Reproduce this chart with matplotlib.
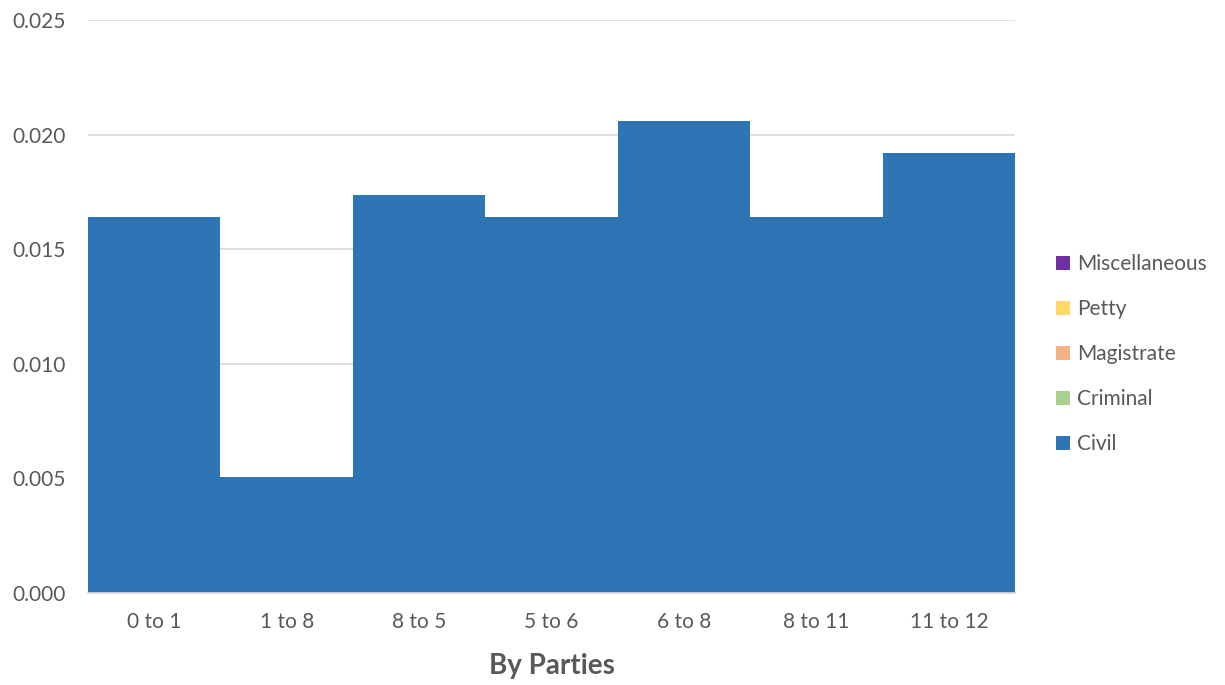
import numpy as np
import matplotlib.pyplot as plt

plt.rcParams['font.family'] = ['Lato', 'DejaVu Sans']

categories = ['0 to 1', '1 to 8', '8 to 5', '5 to 6', '6 to 8', '8 to 11', '11 to 12']
civil = [0.0164, 0.00506, 0.01737, 0.0164, 0.02059, 0.0164, 0.0192]
criminal = [0, 0, 0, 0, 0, 0, 0]
magistrate = [0, 0, 0, 0, 0, 0, 0]
petty = [0, 0, 0, 0, 0, 0, 0]
misc = [0, 0, 0, 0, 0, 0, 0]

series = [
    ('Civil', civil, '#2E75B6'),
    ('Criminal', criminal, '#A9D18E'),
    ('Magistrate', magistrate, '#F4B183'),
    ('Petty', petty, '#FFD966'),
    ('Miscellaneous', misc, '#7030A0'),
]

text_color = '#595959'

fig = plt.figure(figsize=(12.25, 6.85), dpi=100)
ax = fig.add_axes([0.0718, 0.1343, 0.757, 0.8365])

x = np.arange(len(categories))
bottom = np.zeros(len(categories))
handles = []
for name, vals, color in series:
    h = ax.bar(x, vals, width=1.0, bottom=bottom, color=color, label=name,
               linewidth=0, zorder=3)
    handles.append(h)
    bottom += np.array(vals)

ax.set_xlim(-0.5, len(categories) - 0.5)
ax.set_ylim(0, 0.025)
ax.set_yticks(np.arange(0, 0.0251, 0.005))
ax.set_yticklabels(['%.3f' % v for v in np.arange(0, 0.0251, 0.005)])
ax.set_xticks(x)
ax.set_xticklabels(categories)

ax.grid(axis='y', color='#D9D9D9', linewidth=1.2, zorder=0)
for s in ['top', 'right', 'left']:
    ax.spines[s].set_visible(False)
ax.spines['bottom'].set_color('#D9D9D9')
ax.spines['bottom'].set_linewidth(1.2)
ax.spines['bottom'].set_zorder(4)

ax.tick_params(axis='both', length=0, labelsize=15, colors=text_color)
ax.tick_params(axis='y', pad=16)
ax.tick_params(axis='x', pad=14)

ax.set_xlabel('By Parties', fontsize=20, fontweight='bold', color=text_color,
              labelpad=15)

leg = ax.legend(handles[::-1], [s[0] for s in series][::-1],
                loc='center left', bbox_to_anchor=(1.024, 0.417),
                frameon=False, fontsize=15, labelspacing=1.2,
                handlelength=0.65, handleheight=0.65, handletextpad=0.35)
for t in leg.get_texts():
    t.set_color(text_color)

fig.savefig('out.png', dpi=100)
